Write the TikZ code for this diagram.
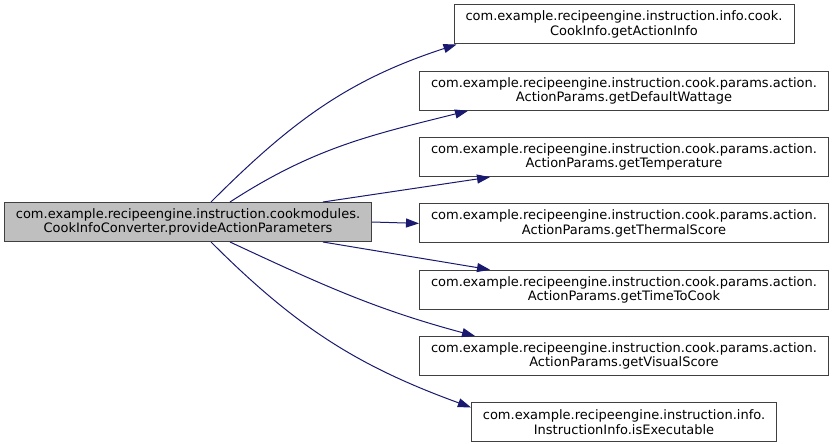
\documentclass[tikz,border=0pt]{standalone}
\usepackage{fontspec}
\setmainfont{DejaVu Sans}
\usepackage{tikz}
\usetikzlibrary{positioning,arrows.meta}
\definecolor{edgeblue}{RGB}{25,25,112}
\definecolor{focusgray}{RGB}{191,191,191}
\definecolor{linegray}{RGB}{64,64,64}

\begin{document}
\begin{tikzpicture}[
node distance=26.3pt,
box/.style={draw=linegray,line width=1pt,minimum height=39pt,inner xsep=11.5pt,inner ysep=2pt,align=center,font=\fontsize{13}{14.5}\selectfont},
focus/.style={box,fill=focusgray},
call/.style={-{Triangle[length=13pt,width=9pt]},color=edgeblue,line width=1pt}
]
\useasboundingbox (0,0) rectangle (833pt,-444pt);

\node[focus] (conv) at (188pt,-222pt) {com.example.recipeengine.instruction.cookmodules.\\CookInfoConverter.provideActionParameters};

\node[box] (info) at (624pt,-24.5pt) {com.example.recipeengine.instruction.info.cook.\\CookInfo.getActionInfo};
\node[box,below=of info] (watt) {com.example.recipeengine.instruction.cook.params.action.\\ActionParams.getDefaultWattage};
\node[box,below=of watt] (temp) {com.example.recipeengine.instruction.cook.params.action.\\ActionParams.getTemperature};
\node[box,below=of temp] (therm) {com.example.recipeengine.instruction.cook.params.action.\\ActionParams.getThermalScore};
\node[box,below=of therm] (time) {com.example.recipeengine.instruction.cook.params.action.\\ActionParams.getTimeToCook};
\node[box,below=of time] (vis) {com.example.recipeengine.instruction.cook.params.action.\\ActionParams.getVisualScore};
\node[box,below=of vis] (exec) {com.example.recipeengine.instruction.info.\\InstructionInfo.isExecutable};

\draw[call] ([xshift=23pt]conv.north) to[out=45,in=198] ([xshift=3pt]info.south west);
\draw[call] ([xshift=42pt]conv.north) to[out=33,in=194] ([xshift=49pt]watt.south west);
\draw[call] ([xshift=135pt]conv.north) -- ([xshift=71pt]temp.south west);
\draw[call] (conv.east) -- (therm.west);
\draw[call] ([xshift=135pt]conv.south) -- ([xshift=71pt]time.north west);
\draw[call] ([xshift=42pt]conv.south) to[out=-25,in=165] ([xshift=56pt]vis.north west);
\draw[call] ([xshift=23pt]conv.south) to[out=-45,in=160] ([yshift=-5pt]exec.north west);
\end{tikzpicture}
\end{document}
